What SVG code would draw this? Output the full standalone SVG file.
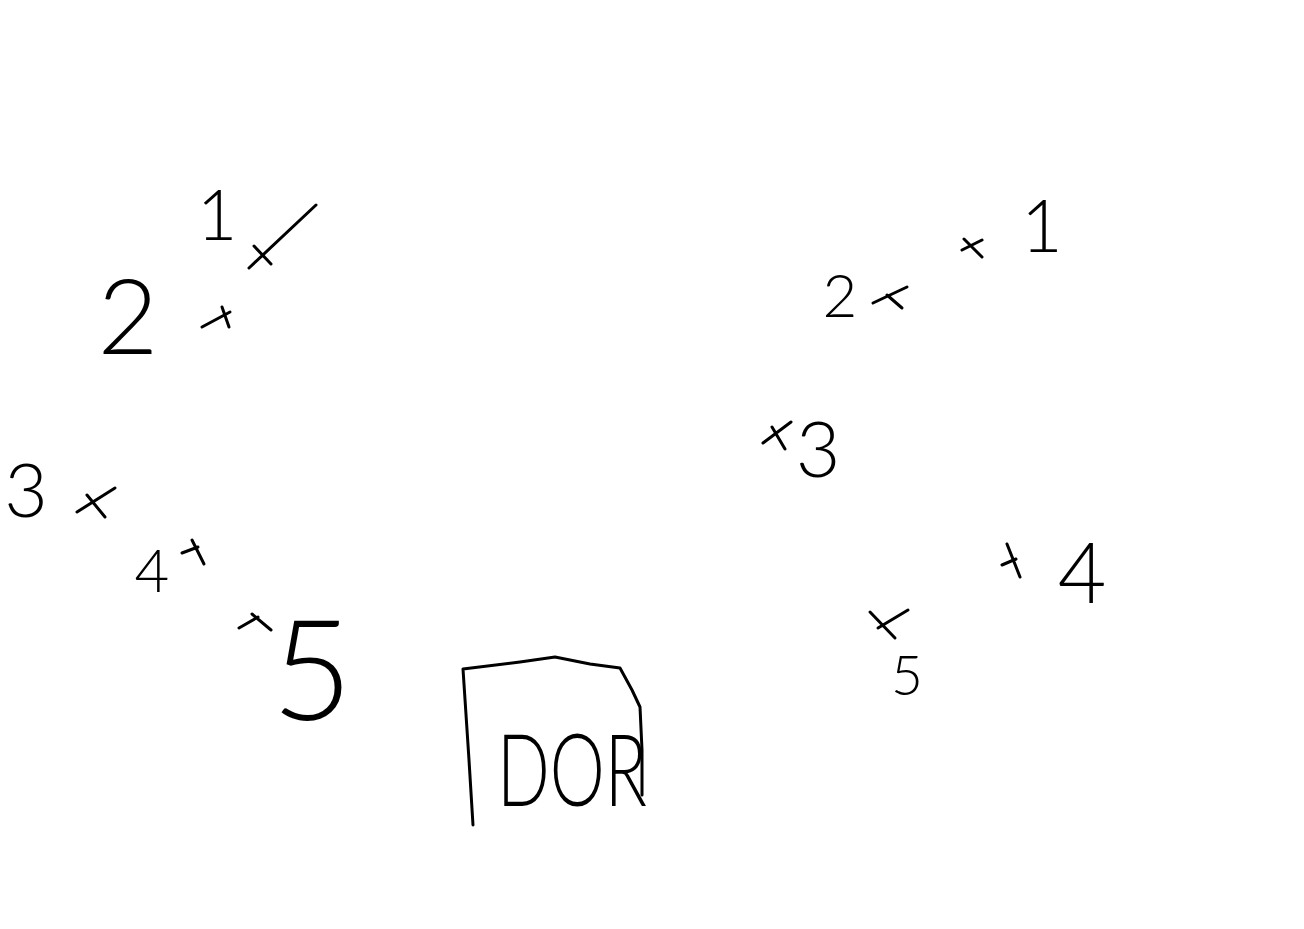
<svg xmlns="http://www.w3.org/2000/svg" width="1304" height="929" viewBox="0 0 1304 929">
<style>
.s{fill:none;stroke:#000;stroke-width:3;stroke-linecap:round;stroke-linejoin:round}
.t{font-family:Lato,"Open Sans","Liberation Sans",sans-serif;font-weight:300;fill:#000;text-anchor:middle}
</style>
<rect width="1304" height="929" fill="#fff"/>
<g id="left-1"><text class="t" x="217" y="240" font-size="70">1</text><path class="s" d="M316,205 L249,268 M254,246 L271,264"/></g>
<g id="left-2"><text class="t" x="128" y="354" font-size="105">2</text><path class="s" d="M202,327 L230,312 M222,307 L229,327"/></g>
<g id="left-3"><text class="t" x="26" y="517" font-size="75">3</text><path class="s" d="M77,512 L115,488 M87,495 L105,517"/></g>
<g id="left-4"><text class="t" x="152" y="592" font-size="60">4</text><path class="s" d="M182,553 L198,547 M192,540 L204,564"/></g>
<g id="left-5"><text class="t" x="312" y="720" font-size="140">5</text><path class="s" d="M239,628 L258,617 M252,614 L271,630"/></g>
<g id="right-1"><text class="t" x="1042" y="252" font-size="72">1</text><path class="s" d="M962,250 L982,240 M964,239 L982,257"/></g>
<g id="right-2"><text class="t" x="840" y="317" font-size="60">2</text><path class="s" d="M873,303 L907,287 M887,295 L902,308"/></g>
<g id="right-3"><text class="t" x="818" y="477" font-size="77">3</text><path class="s" d="M763,443 L791,422 M772,427 L785,449"/></g>
<g id="right-4"><text class="t" x="1082" y="603" font-size="84">4</text><path class="s" d="M1002,565 L1016,559 M1007,544 L1020,577"/></g>
<g id="right-5"><text class="t" x="907" y="695" font-size="55">5</text><path class="s" d="M870,612 L895,638 M878,628 L908,610"/></g>
<g id="door"><path class="s" d="M473,825 L469,760 L463,669 L520,662 L555,657 L590,664 L620,668 L632,690 L640,707 L642,750 L642,795"/><text class="t" x="572" y="806" font-size="100" textLength="150" lengthAdjust="spacingAndGlyphs">DOR</text></g>
</svg>
